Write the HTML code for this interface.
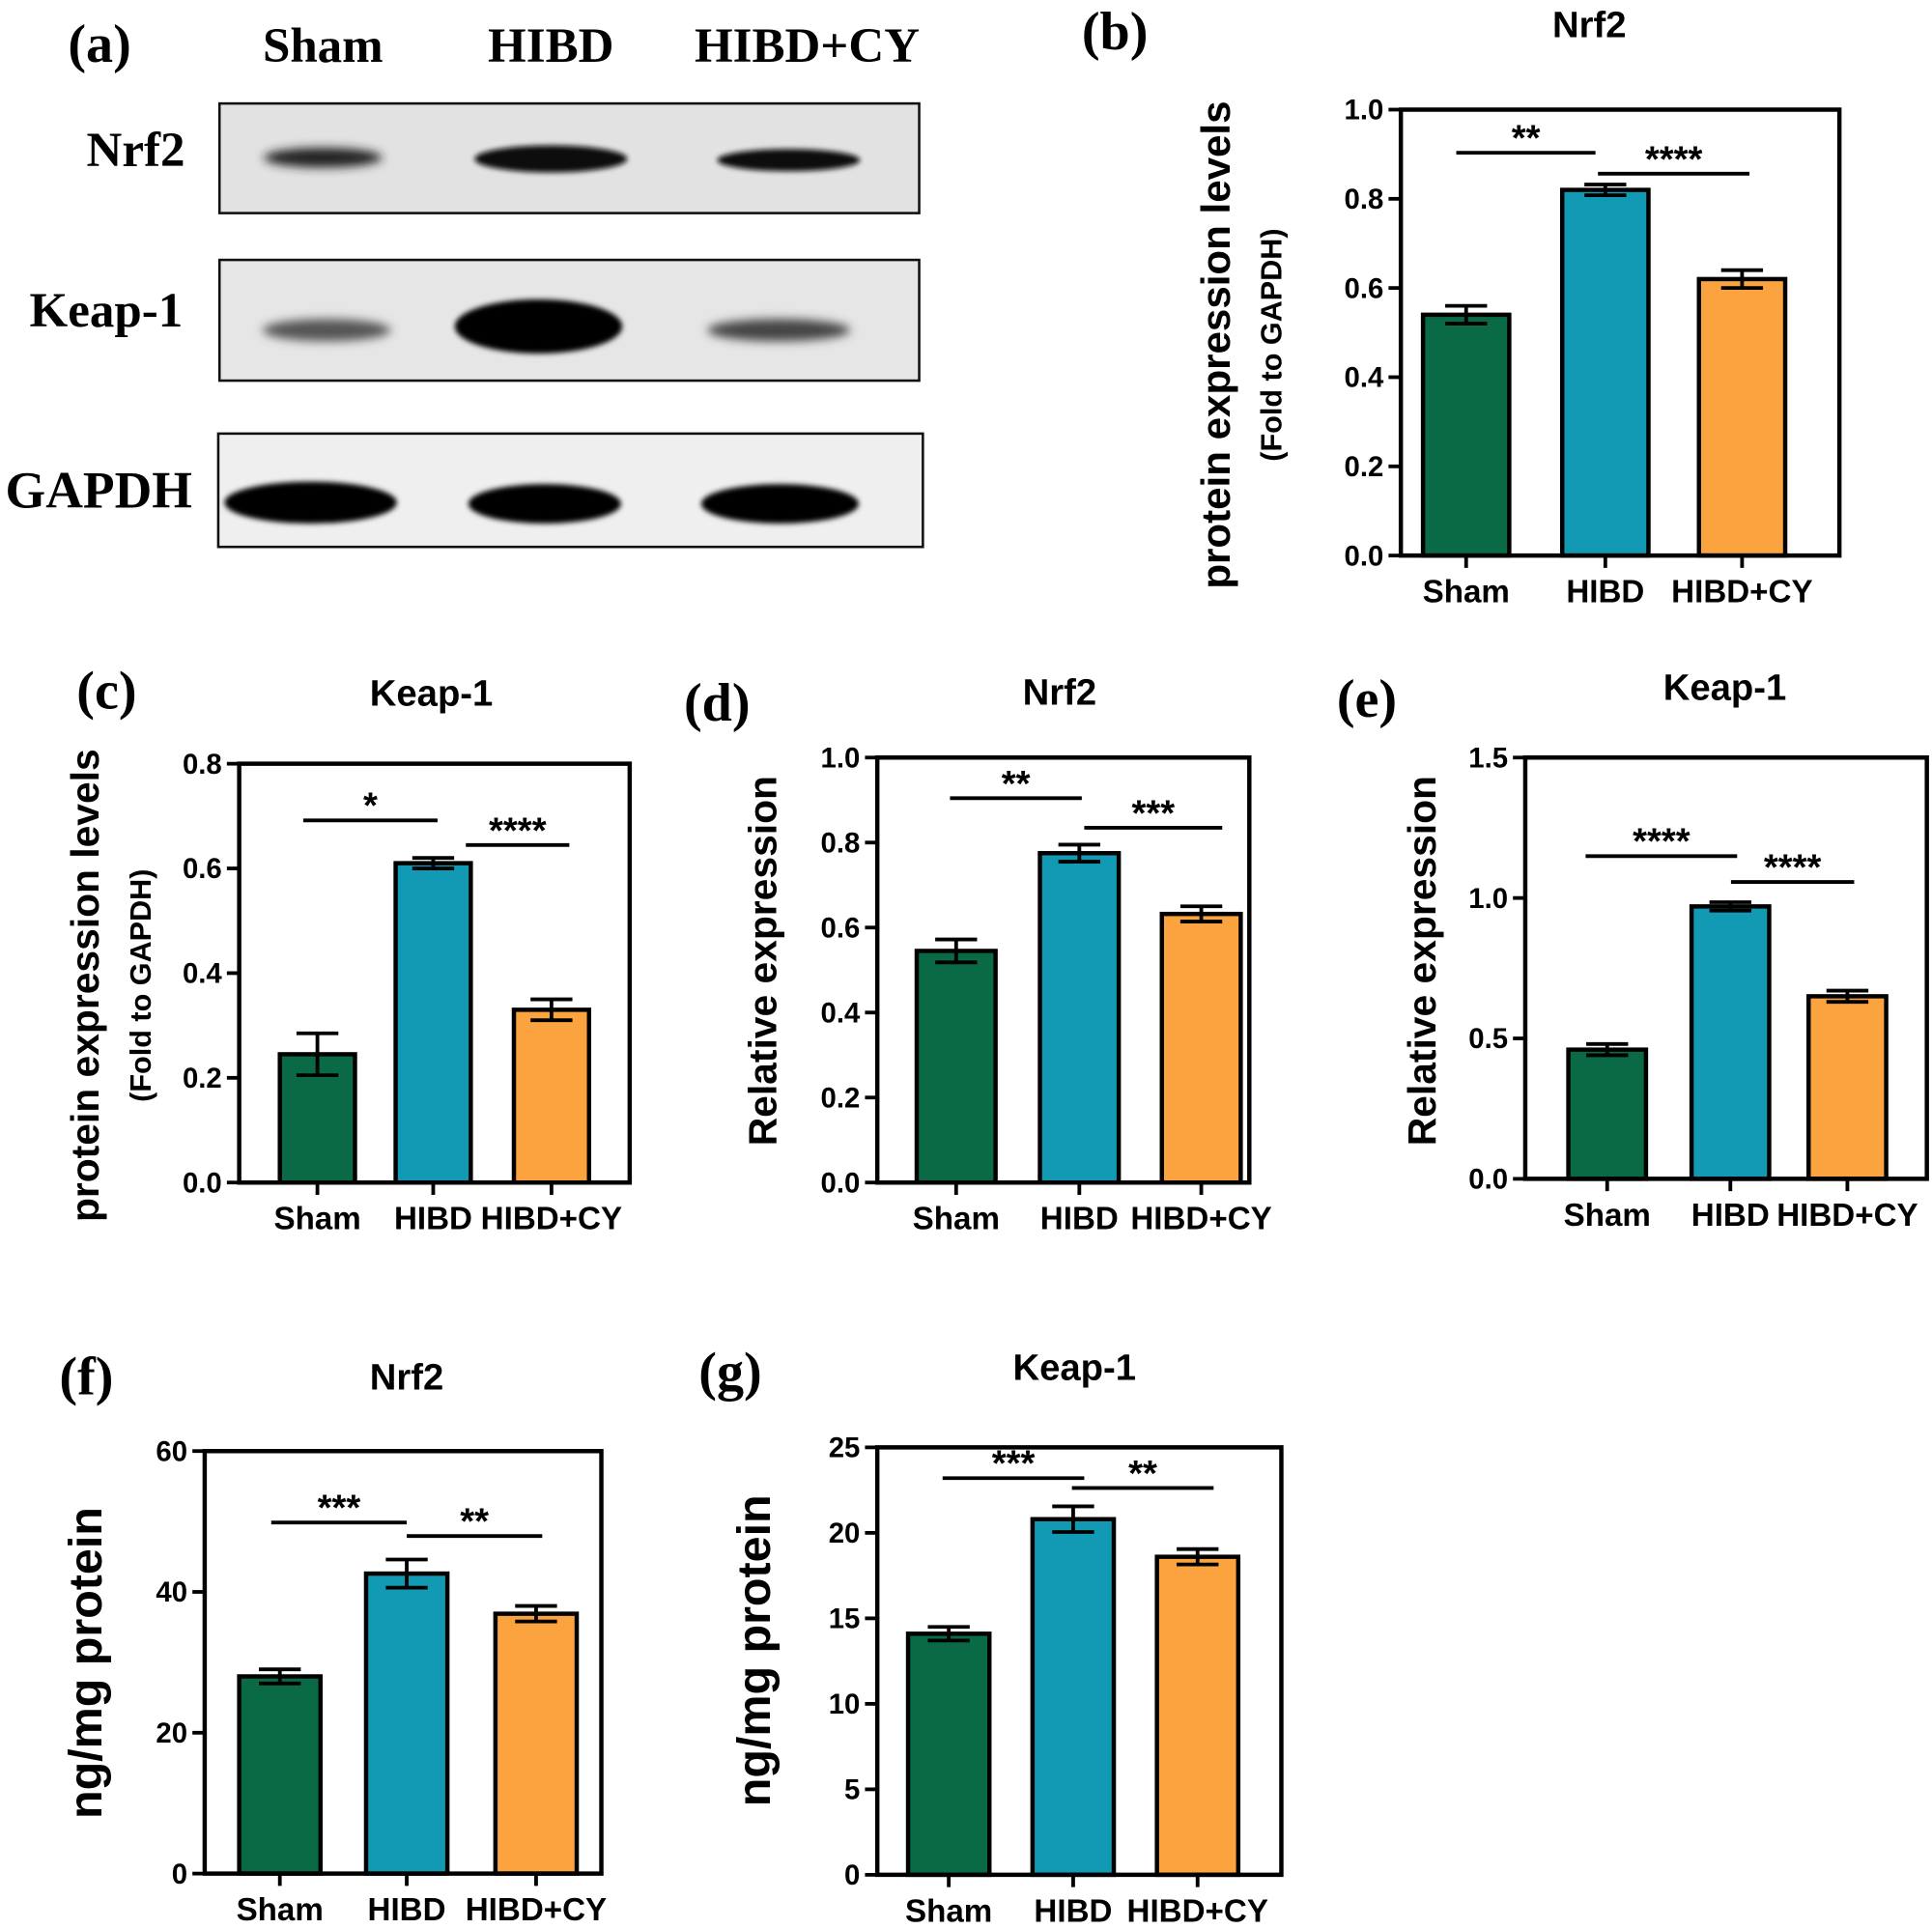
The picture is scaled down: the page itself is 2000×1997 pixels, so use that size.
<!DOCTYPE html>
<html><head><meta charset="utf-8"><style>
html,body{margin:0;padding:0;background:#fff;}
svg{display:block;}
.sans{font-family:"Liberation Sans",sans-serif;}
.serif{font-family:"Liberation Serif",serif;font-weight:bold;}
</style></head><body>
<svg id="fig" width="2000" height="1997" viewBox="0 0 1568 1566" xmlns="http://www.w3.org/2000/svg">
<defs>
<filter id="blur" x="-30%" y="-100%" width="160%" height="300%"><feGaussianBlur stdDeviation="4"/></filter>
<filter id="blur2" x="-30%" y="-100%" width="160%" height="300%"><feGaussianBlur stdDeviation="2"/></filter>
</defs>
<g>
<text class="serif" x="55" y="50" font-size="44">(a)</text>
<text class="serif" x="262" y="50" font-size="40" text-anchor="middle">Sham</text>
<text class="serif" x="447" y="50" font-size="40" text-anchor="middle">HIBD</text>
<text class="serif" x="655" y="50" font-size="40" text-anchor="middle">HIBD+CY</text>
<text class="serif" x="110" y="135" font-size="40" text-anchor="middle">Nrf2</text>
<text class="serif" x="86" y="265" font-size="40" text-anchor="middle">Keap-1</text>
<text class="serif" x="80" y="412" font-size="42" text-anchor="middle">GAPDH</text>
<g>
<rect x="178" y="84" width="568" height="89" fill="#e2e2e2" stroke="#111" stroke-width="2"/>
<ellipse cx="262" cy="128" rx="48" ry="8" fill="#222" filter="url(#blur)"/>
<ellipse cx="447" cy="129" rx="62" ry="11" fill="#080808" filter="url(#blur2)"/>
<ellipse cx="640" cy="130" rx="58" ry="9" fill="#111" filter="url(#blur2)"/>
</g>
<g>
<rect x="178" y="211" width="568" height="98" fill="#e6e6e6" stroke="#111" stroke-width="2"/>
<ellipse cx="265" cy="268" rx="52" ry="9" fill="#555" filter="url(#blur)"/>
<ellipse cx="437" cy="265" rx="68" ry="22" fill="#000" filter="url(#blur2)"/>
<ellipse cx="632" cy="268" rx="58" ry="9" fill="#444" filter="url(#blur)"/>
</g>
<g>
<rect x="177" y="352" width="572" height="92" fill="#efefef" stroke="#111" stroke-width="2"/>
<ellipse cx="252" cy="408" rx="70" ry="17" fill="#000" filter="url(#blur2)"/>
<ellipse cx="442" cy="409" rx="62" ry="16" fill="#000" filter="url(#blur2)"/>
<ellipse cx="633" cy="409" rx="64" ry="16" fill="#000" filter="url(#blur2)"/>
</g>
</g>
<g id="charts"></g>
</svg>
<script>
const categories = ["Sham","HIBD","HIBD+CY"];
const colors = ["#0a6a45","#129ab5","#fba33f"];
// panel b
const bVals = [0.54,0.82,0.62]; const bErr = [0.02,0.012,0.02]; const bTicks = [0,0.2,0.4,0.6,0.8,1.0];
// panel c
const cVals = [0.245,0.61,0.33]; const cErr = [0.04,0.01,0.02]; const cTicks = [0,0.2,0.4,0.6,0.8];
// panel d
const dVals = [0.545,0.775,0.632]; const dErr = [0.027,0.02,0.018]; const dTicks = [0,0.2,0.4,0.6,0.8,1.0];
// panel e
const eVals = [0.46,0.97,0.65]; const eErr = [0.02,0.015,0.02]; const eTicks = [0,0.5,1.0,1.5];
// panel f
const fVals = [28,42.6,36.9]; const fErr = [1,2,1.1]; const fTicks = [0,20,40,60];
// panel g
const gVals = [14.1,20.8,18.6]; const gErr = [0.4,0.75,0.45]; const gTicks = [0,5,10,15,20,25];
const bSig = ["**","****"]; const cSig = ["*","****"]; const dSig = ["**","***"];
const eSig = ["****","****"]; const fSig = ["***","**"]; const gSig = ["***","**"];

const NS="http://www.w3.org/2000/svg";
function mk(tag,parent,attrs){const e=document.createElementNS(NS,tag);for(const k in attrs)e.setAttribute(k,attrs[k]);parent.appendChild(e);return e;}

const panels = [
 {id:"b",vals:bVals,err:bErr,ticks:bTicks,sig:bSig,x0:1137,x1:1493,y0:451,y1:89,bars:[1155,1268,1379],bw:70,title:"Nrf2",tx:1290,ty:30,lab:"(b)",lx:878,ly:40,
  yt:["protein expression levels","(Fold to GAPDH)"],ytx:[998,1040],yty:280,yfs:[33,24],dec:1,
  s:[[1182,1295,124],[1297,1420,141]]},
 {id:"c",vals:cVals,err:cErr,ticks:cTicks,sig:cSig,x0:194,x1:511,y0:960,y1:620,bars:[227,321,417],bw:61,title:"Keap-1",tx:350,ty:573,lab:"(c)",lx:62,ly:575,
  yt:["protein expression levels","(Fold to GAPDH)"],ytx:[80,122],yty:800,yfs:[32,24],dec:1,
  s:[[246,355,666],[378,462,686]]},
 {id:"d",vals:dVals,err:dErr,ticks:dTicks,sig:dSig,x0:712,x1:1014,y0:960,y1:615,bars:[744,844,943],bw:64,title:"Nrf2",tx:860,ty:572,lab:"(d)",lx:555,ly:585,
  yt:["Relative expression"],ytx:[630],yty:780,yfs:[32],dec:1,
  s:[[771,878,648],[880,992,672]]},
 {id:"e",vals:eVals,err:eErr,ticks:eTicks,sig:eSig,x0:1238,x1:1564,y0:957,y1:615,bars:[1273,1373,1468],bw:63,title:"Keap-1",tx:1400,ty:568,lab:"(e)",lx:1085,ly:582,
  yt:["Relative expression"],ytx:[1165],yty:780,yfs:[32],dec:1,
  s:[[1287,1410,695],[1405,1505,716]]},
 {id:"f",vals:fVals,err:fErr,ticks:fTicks,sig:fSig,x0:166,x1:488,y0:1521,y1:1178,bars:[194,297,402],bw:66,title:"Nrf2",tx:330,ty:1128,lab:"(f)",lx:48,ly:1132,
  yt:["ng/mg protein"],ytx:[82],yty:1350,yfs:[38],dec:0,
  s:[[220,330,1236],[330,440,1247]]},
 {id:"g",vals:gVals,err:gErr,ticks:gTicks,sig:gSig,x0:712,x1:1040,y0:1522,y1:1175,bars:[737,838,939],bw:66,title:"Keap-1",tx:872,ty:1120,lab:"(g)",lx:567,ly:1128,
  yt:["ng/mg protein"],ytx:[625],yty:1340,yfs:[38],dec:0,
  s:[[765,880,1200],[870,985,1208]]}
];
const root=document.getElementById("charts");
panels.forEach(p=>{
 const g=mk("g",root,{});
 
 
 const tmax=p.ticks[p.ticks.length-1];
 const Y=v=>p.y0-(v/tmax)*(p.y0-p.y1);
 const lab=mk("text",g,{class:"serif",x:p.lx,y:p.ly,"font-size":44});lab.textContent=p.lab;
 
 
 const t=mk("text",g,{class:"sans",x:p.tx,y:p.ty,"font-size":30,"font-weight":"bold","text-anchor":"middle"});t.textContent=p.title;
 
 
 p.yt.forEach((s,i)=>{
  const e=mk("text",g,{class:"sans",x:p.ytx[i],y:p.yty,"font-size":p.yfs[i],"font-weight":"bold","text-anchor":"middle",transform:`rotate(-90 ${p.ytx[i]} ${p.yty})`});e.textContent=s;
  
  
 });
 p.vals.forEach((v,i)=>{
  const x=p.bars[i],w=p.bw,cx=x+w/2;
  const r=mk("rect",g,{x:x,y:Y(v),width:w,height:p.y0-Y(v),fill:colors[i],stroke:"#000","stroke-width":3.5});
  
  
  const hi=Y(v+p.err[i]),lo=Y(v-p.err[i]);
  const eb=mk("path",g,{d:`M${cx} ${lo}V${hi}M${cx-17} ${hi}H${cx+17}M${cx-17} ${lo}H${cx+17}`,stroke:"#000","stroke-width":3,fill:"none"});
  
  
  const tk=mk("line",g,{x1:cx,x2:cx,y1:p.y0,y2:p.y0+10,stroke:"#000","stroke-width":3});
  
  
  const xl=mk("text",g,{class:"sans",x:cx,y:p.y0+38,"font-size":26,"font-weight":"bold","text-anchor":"middle"});xl.textContent=categories[i];
  
  
 });
 const ax=mk("path",g,{d:`M${p.x0} ${p.y1}H${p.x1}V${p.y0}H${p.x0}Z`,fill:"none",stroke:"#000","stroke-width":3.5});
 
 
 p.ticks.forEach(v=>{
  const y=Y(v);
  const l=mk("line",g,{x1:p.x0-10,x2:p.x0,y1:y,y2:y,stroke:"#000","stroke-width":3});
  
  
  const tl=mk("text",g,{class:"sans",x:p.x0-14,y:y+8,"font-size":23,"font-weight":"bold","text-anchor":"end"});tl.textContent=v.toFixed(p.dec);
  
  
 });
 p.s.forEach((s,i)=>{
  const l=mk("line",g,{x1:s[0],x2:s[1],y1:s[2],y2:s[2],stroke:"#000","stroke-width":3});
  
  
  const st=mk("text",g,{class:"sans",x:(s[0]+s[1])/2,y:s[2]-2,"font-size":30,"font-weight":"bold","text-anchor":"middle"});st.textContent=p.sig[i];
  
  
 });
});
</script>
</body></html>
